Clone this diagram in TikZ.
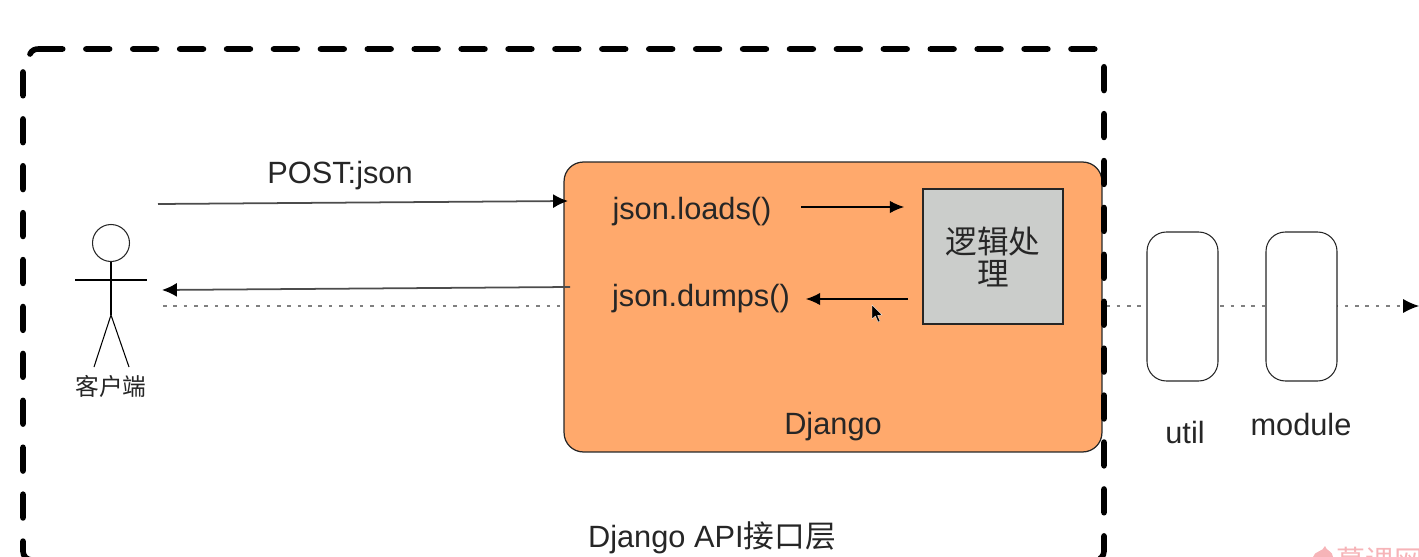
\documentclass[tikz,border=0pt]{standalone}
\usepackage{fontspec}
\setmainfont{Liberation Sans}
\newfontfamily\cjk{Noto Sans CJK SC}
\usetikzlibrary{arrows.meta,positioning}
\definecolor{djangofill}{HTML}{FFA96C}
\definecolor{logicfill}{HTML}{CBCDCB}
\definecolor{markpink}{HTML}{F6B4B8}
\tikzset{
    txt/.style={font=\fontsize{17.5}{20}\selectfont,text=black!85,inner sep=0pt},
    msg/.style={-{Latex[length=8.5pt,width=8pt,black]},line width=1pt,draw=black!70},
    wire/.style={-{Latex[length=8pt,width=7pt]},line width=0.6pt},
    slot/.style={draw=black!85,fill=white,rounded corners=11pt,line width=0.6pt,minimum width=1.42cm,minimum height=2.98cm},
    limb/.style={line width=0.6pt},
    framedash/.style={line width=3.2pt,line cap=round,dash pattern=on 13.5pt off 13.2pt,rounded corners=5pt}
}
\begin{document}
\begin{tikzpicture}[x=0.02cm,y=-0.02cm]
\useasboundingbox (0,0) rectangle (1419,557);

% Flow line behind the boxes
\coordinate (flowstart) at (163,306);
\coordinate (flowend) at (1419,306);
\draw[black!50,line width=0.7pt,dash pattern=on 2pt off 3.9pt,-{Latex[length=9pt,width=8pt,black]}] (flowstart) -- (flowend);

% Django
\node[draw=black!85,fill=djangofill,rounded corners=11pt,line width=0.7pt,minimum width=10.76cm,minimum height=5.8cm] (django) at (833,307) {};
\node[txt] (djangolabel) at (833,427) {Django};

% API layer
\draw[framedash] (39,49) -- (1104,49) -- (1104,560) -- (60,560);
\draw[framedash] (23,72) -- (23,560) -- (60,560);
\draw[line width=3.2pt,line cap=round] (30,54) .. controls (32,50) and (35,49) .. (39,49);
\node[txt] (apilabel) at (712,538) {Django API{\cjk 接口层}};

% Logic
\node[draw=black!85,fill=logicfill,line width=0.7pt,minimum width=2.8cm,minimum height=2.7cm] (logic) at (993,256.5) {};
\node[txt,align=center,text width=2.5cm,font=\fontsize{18}{18.2}\selectfont\cjk] (logiclabel) at (993,257) {逻辑处\\理};

% Json calls
\node[txt] (loads) at (692,212) {json.loads()};
\node[txt] (dumps) at (701,299) {json.dumps()};
\coordinate (loadsend) at (801,207);
\coordinate (logicin) at (904,207);
\coordinate (logicout) at (908,299);
\coordinate (dumpsend) at (806,299);
\draw[wire] (loadsend) -- (logicin);
\draw[wire] (logicout) -- (dumpsend);

% Client
\node[draw=black!85,circle,line width=0.6pt,minimum size=0.74cm,inner sep=0pt] (head) at (111,243) {};
\coordinate (armleft) at (75,280);
\coordinate (armright) at (147,280);
\coordinate (hip) at (111,315);
\coordinate (footleft) at (94,367);
\coordinate (footright) at (129,367);
\draw[limb] (head.south) -- (hip);
\draw[limb] (armleft) -- (armright);
\draw[limb] (footleft) -- (hip) -- (footright);
\node[txt,font=\fontsize{13.5}{15}\selectfont\cjk] (client) at (111,386) {客户端};

% Requests
\node[txt] (postlabel) at (340,176) {POST:json};
\coordinate (poststart) at (158,204);
\coordinate (postend) at (568,201);
\coordinate (backstart) at (570,287);
\coordinate (backend) at (162,290);
\draw[msg] (poststart) -- (postend);
\draw[msg] (backstart) -- (backend);

% Util and module
\foreach \name/\cx in {util/1182.5,module/1301.5} {
    \node[slot] (\name) at (\cx,306.5) {};
}
\node[txt] (utillabel) at (1185,433) {util};
\node[txt] (modulelabel) at (1301,425) {module};

% Pointer
\fill[black,draw=white,line width=0.2pt] (872,305) -- (872,319) -- (875.5,316) -- (878,322) -- (880,321) -- (877.5,315.5) -- (882,315) -- cycle;

% Watermark
\fill[markpink] (1325,546) .. controls (1326,551) and (1333,551) .. (1333,557) -- (1313,557) .. controls (1314,551) and (1323,552) .. (1325,546);
\node[txt,text=markpink,font=\fontsize{16.5}{18}\selectfont\cjk,anchor=west] (mark) at (1336,560) {慕课网};
\end{tikzpicture}
\end{document}
